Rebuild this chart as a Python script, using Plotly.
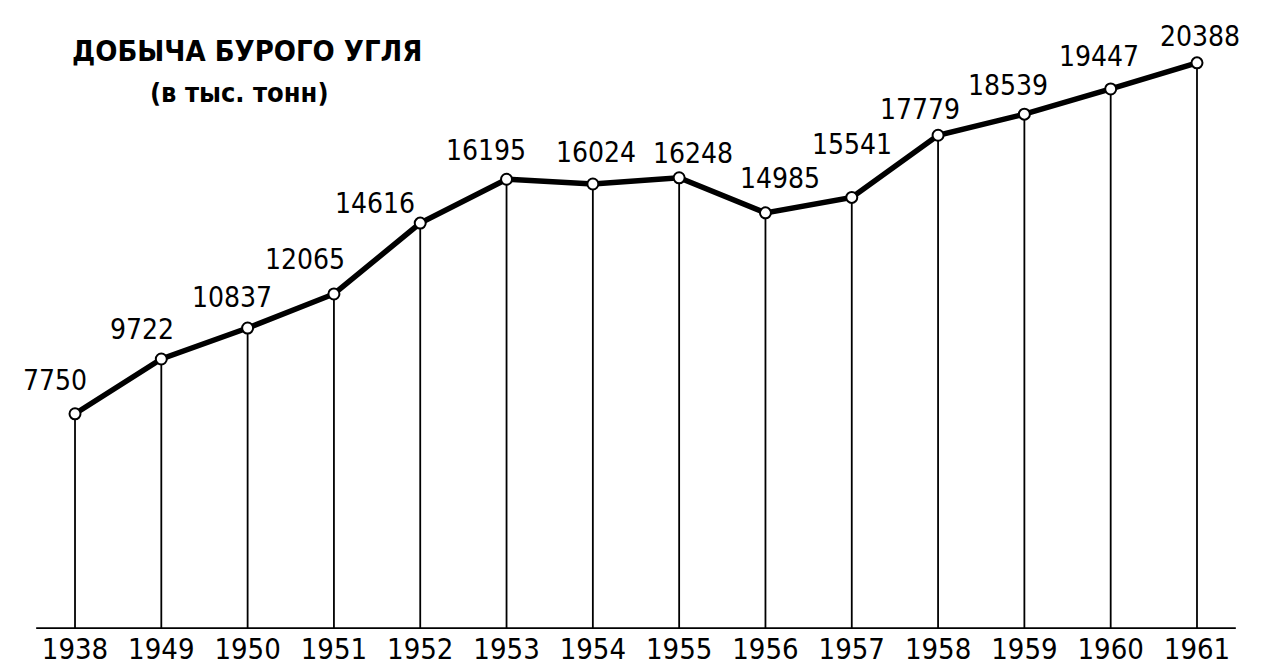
import plotly.graph_objects as go

# Brown coal output, thousand tonnes
years = ["1938", "1949", "1950", "1951", "1952", "1953", "1954",
         "1955", "1956", "1957", "1958", "1959", "1960", "1961"]
output = [7750, 9722, 10837, 12065, 14616, 16195, 16024,
          16248, 14985, 15541, 17779, 18539, 19447, 20388]

# pixel offsets of each value label from its point (dx, dy)
label_dx = [-20, -19, -16, -29, -45, -21, 3, 14, 15, 0, -18, -16, -12, 3]
label_dy = [33, 30, 31, 34, 20, 29, 32, 24, 34, 53, 26, 29, 32, 26]

FONT = "DejaVu Sans Condensed, Liberation Sans Narrow, sans-serif"
INK = "#000000"

idx = list(range(len(years)))

fig = go.Figure()

# vertical drop lines from each point to the base
drop_x, drop_y = [], []
for i, v in zip(idx, output):
    drop_x += [i, i, None]
    drop_y += [0, v, None]
fig.add_trace(go.Scatter(x=drop_x, y=drop_y, mode="lines",
                         line=dict(color=INK, width=1.8),
                         hoverinfo="skip", showlegend=False))

# main polyline with hollow markers
fig.add_trace(go.Scatter(x=idx, y=output, mode="lines+markers",
                         line=dict(color=INK, width=5.5),
                         marker=dict(size=11, color="white",
                                     line=dict(color=INK, width=2)),
                         showlegend=False))

# base line
fig.add_shape(type="line", xref="x", yref="y", x0=-0.45, x1=13.45, y0=0, y1=0,
              line=dict(color=INK, width=3.5))

annotations = []
for i, v, dx, dy in zip(idx, output, label_dx, label_dy):
    annotations.append(dict(x=i, y=v, xref="x", yref="y", text=str(v),
                            showarrow=False, xshift=dx, yshift=dy,
                            xanchor="center", yanchor="middle",
                            font=dict(family=FONT, size=28, color=INK)))

annotations.append(dict(x=70, y=51, xref="pixel", yref="pixel", text="<b>ДОБЫЧА БУРОГО УГЛЯ</b>",
                        showarrow=False, xanchor="left", yanchor="middle",
                        font=dict(family=FONT, size=29, color=INK)))
annotations.append(dict(x=148, y=93, xref="pixel", yref="pixel", text="<b>(в тыс. тонн)</b>",
                        showarrow=False, xanchor="left", yanchor="middle",
                        font=dict(family=FONT, size=27, color=INK)))

# convert pixel-placed title annotations to paper coords
W, H = 1279, 666
ML, MR, MT, MB = 0, 0, 0, 37
pw, ph = W - ML - MR, H - MT - MB
for a in annotations:
    if a.get("xref") == "pixel":
        a["xref"] = "paper"
        a["yref"] = "paper"
        a["x"] = (a["x"] - ML) / pw
        a["y"] = 1 - (a["y"] - MT) / ph

fig.update_layout(
    width=W, height=H,
    margin=dict(l=ML, r=MR, t=MT, b=MB, pad=0),
    paper_bgcolor="white", plot_bgcolor="white",
    annotations=annotations,
    xaxis=dict(range=[-75 / 86.3, 13 + 82 / 86.3], tickmode="array",
               tickvals=idx, ticktext=years, showgrid=False, zeroline=False,
               showline=False, ticks="",
               tickfont=dict(family=FONT, size=29, color=INK)),
    yaxis=dict(range=[0, 22650], showgrid=False, zeroline=False,
               showline=False, showticklabels=False, ticks=""),
)

fig.write_html("out.html")
